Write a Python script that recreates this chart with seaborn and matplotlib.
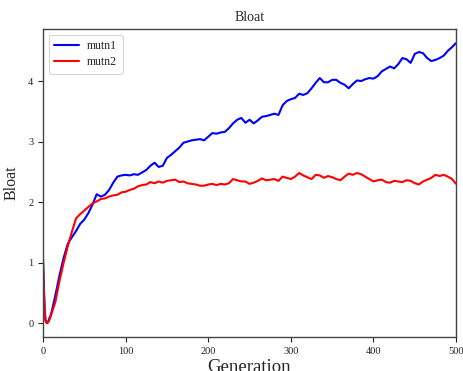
import numpy as np
import pandas as pd
import matplotlib
matplotlib.use("Agg")
import matplotlib.pyplot as plt
import seaborn as sns

# Generations sampled: every generation early on, then every 5
generation = list(range(0, 11)) + list(range(15, 501, 5))

mutn1 = [1.05, 0.62, 0.22, 0.05, 0.01, 0.00, 0.02, 0.05, 0.09, 0.12, 0.16,
         0.46, 0.79, 1.08, 1.31, 1.42, 1.52, 1.64, 1.71, 1.82, 1.96,
         2.13, 2.09, 2.12, 2.20, 2.32, 2.42, 2.44, 2.45, 2.44, 2.46,
         2.45, 2.49, 2.53, 2.60, 2.65, 2.58, 2.60, 2.73, 2.78, 2.84,
         2.90, 2.98, 3.00, 3.02, 3.03, 3.04, 3.02, 3.08, 3.14, 3.13,
         3.15, 3.16, 3.22, 3.30, 3.36, 3.39, 3.31, 3.36, 3.30, 3.35,
         3.41, 3.42, 3.44, 3.46, 3.44, 3.60, 3.67, 3.70, 3.72, 3.79,
         3.77, 3.80, 3.88, 3.97, 4.05, 3.98, 3.98, 4.02, 4.02, 3.97,
         3.94, 3.88, 3.95, 4.01, 4.00, 4.03, 4.05, 4.04, 4.08, 4.16,
         4.20, 4.24, 4.21, 4.28, 4.38, 4.36, 4.30, 4.45, 4.48, 4.46,
         4.38, 4.33, 4.35, 4.38, 4.42, 4.50, 4.56, 4.63]

mutn2 = [1.05, 0.55, 0.18, 0.04, 0.01, 0.00, 0.01, 0.03, 0.06, 0.10, 0.14,
         0.35, 0.70, 1.00, 1.27, 1.51, 1.73, 1.80, 1.86, 1.92, 1.98,
         2.01, 2.05, 2.06, 2.09, 2.11, 2.12, 2.16, 2.17, 2.20, 2.22,
         2.26, 2.28, 2.29, 2.33, 2.31, 2.34, 2.32, 2.35, 2.36, 2.37,
         2.33, 2.34, 2.31, 2.30, 2.29, 2.27, 2.27, 2.29, 2.30, 2.28,
         2.30, 2.29, 2.31, 2.38, 2.36, 2.34, 2.34, 2.30, 2.32, 2.35,
         2.39, 2.36, 2.37, 2.38, 2.35, 2.42, 2.40, 2.38, 2.42, 2.48,
         2.44, 2.41, 2.38, 2.45, 2.44, 2.40, 2.43, 2.41, 2.38, 2.36,
         2.42, 2.47, 2.45, 2.48, 2.46, 2.42, 2.38, 2.34, 2.36, 2.37,
         2.33, 2.32, 2.35, 2.34, 2.33, 2.36, 2.35, 2.31, 2.29, 2.34,
         2.37, 2.40, 2.45, 2.43, 2.45, 2.42, 2.38, 2.30]

series_names = ["mutn1", "mutn2"]
series_colors = ["blue", "red"]

df = pd.concat([
    pd.DataFrame({"Generation": generation, "Bloat": mutn1, "run": "mutn1"}),
    pd.DataFrame({"Generation": generation, "Bloat": mutn2, "run": "mutn2"}),
], ignore_index=True)

sns.set_style("ticks")
plt.rcParams["font.family"] = ["Liberation Serif", "DejaVu Serif"]

fig = plt.figure(figsize=(4.64, 3.71), dpi=100)
ax = fig.add_axes([0.0927, 0.0916, 0.8903, 0.8304])

sns.lineplot(data=df, x="Generation", y="Bloat", hue="run",
             hue_order=series_names, palette=series_colors,
             linewidth=1.5, ax=ax)

ax.set_xlim(0, 500)
ax.set_xticks([0, 100, 200, 300, 400, 500])
ax.set_yticks([0, 1, 2, 3, 4])
ax.tick_params(labelsize=7.5, length=3.5, width=0.8, colors="#222222")
for sp in ax.spines.values():
    sp.set_color("#444444")
    sp.set_linewidth(1.0)

ax.set_title("Bloat", fontsize=10, pad=6)
ax.set_xlabel("Generation", fontsize=13.5, labelpad=2)
ax.set_ylabel("Bloat", fontsize=11.5, labelpad=6)

leg = ax.legend(loc="upper left", fontsize=8.5, frameon=True,
                handlelength=2.1, handletextpad=0.7,
                borderpad=0.45, labelspacing=0.35)
leg.get_frame().set_edgecolor("#cccccc")
leg.get_frame().set_linewidth(0.8)

fig.savefig("out.png", dpi=100)
